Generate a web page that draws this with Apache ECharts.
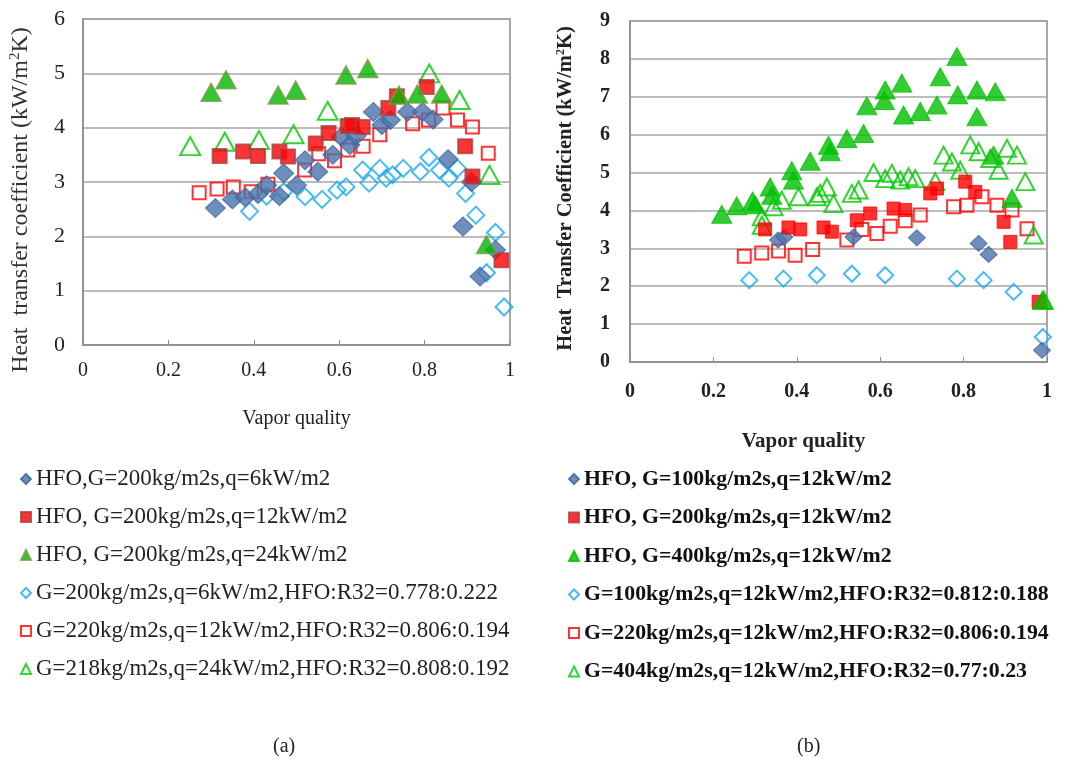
<!DOCTYPE html>
<html><head><meta charset="utf-8">
<script src="https://cdn.jsdelivr.net/npm/echarts@6/dist/echarts.min.js"></script>
<style>html,body{margin:0;padding:0;background:#fff}#c{width:1067px;height:765px}</style>
</head><body><div id="c"></div>
<script>
// ---------- Panel (a) data: [vapor quality, HTC kW/m2K] ----------
const aNames = [
  'HFO,G=200kg/m2s,q=6kW/m2',
  'HFO, G=200kg/m2s,q=12kW/m2',
  'HFO, G=200kg/m2s,q=24kW/m2',
  'G=200kg/m2s,q=6kW/m2,HFO:R32=0.778:0.222',
  'G=220kg/m2s,q=12kW/m2,HFO:R32=0.806:0.194',
  'G=218kg/m2s,q=24kW/m2,HFO:R32=0.808:0.192'
];
const aHfoQ6 = [[0.31,2.52],[0.35,2.68],[0.38,2.72],[0.41,2.78],[0.43,2.94],[0.46,2.74],[0.47,3.16],[0.50,2.94],[0.52,3.40],[0.55,3.19],[0.585,3.50],[0.605,3.83],[0.625,3.68],[0.64,3.85],[0.68,4.29],[0.70,4.05],[0.72,4.14],[0.76,4.29],[0.795,4.29],[0.82,4.15],[0.855,3.42],[0.91,3.0],[0.89,2.18],[0.93,1.26],[0.966,1.75]];
const aHfoQ12 = [[0.32,3.48],[0.375,3.56],[0.41,3.48],[0.46,3.56],[0.48,3.47],[0.545,3.71],[0.575,3.90],[0.62,4.03],[0.63,4.05],[0.655,4.01],[0.715,4.36],[0.735,4.58],[0.805,4.75],[0.895,3.66],[0.912,3.10],[0.98,1.56]];
const aHfoQ24 = [[0.30,4.65],[0.335,4.88],[0.457,4.60],[0.498,4.69],[0.616,4.97],[0.667,5.09],[0.74,4.60],[0.783,4.62],[0.84,4.62],[0.945,1.85]];
const aMixQ6 = [[0.39,2.46],[0.43,2.74],[0.47,2.82],[0.52,2.73],[0.56,2.68],[0.595,2.85],[0.616,2.91],[0.655,3.22],[0.67,2.98],[0.695,3.25],[0.71,3.07],[0.725,3.13],[0.75,3.25],[0.79,3.19],[0.81,3.45],[0.835,3.22],[0.857,3.07],[0.877,3.25],[0.896,2.79],[0.92,2.39],[0.966,2.07],[0.945,1.33],[0.986,0.70]];
const aMixQ12 = [[0.272,2.80],[0.314,2.87],[0.352,2.91],[0.394,2.82],[0.433,2.96],[0.519,3.22],[0.552,3.52],[0.589,3.39],[0.62,3.59],[0.656,3.66],[0.695,3.87],[0.772,4.07],[0.809,4.14],[0.843,4.36],[0.877,4.14],[0.912,4.01],[0.949,3.53]];
const aMixQ24 = [[0.251,3.66],[0.332,3.74],[0.412,3.77],[0.493,3.88],[0.573,4.31],[0.811,5.0],[0.882,4.51],[0.952,3.13]];

// ---------- Panel (b) data ----------
const bNames = [
  'HFO, G=100kg/m2s,q=12kW/m2',
  'HFO, G=200kg/m2s,q=12kW/m2',
  'HFO, G=400kg/m2s,q=12kW/m2',
  'G=100kg/m2s,q=12kW/m2,HFO:R32=0.812:0.188',
  'G=220kg/m2s,q=12kW/m2,HFO:R32=0.806:0.194',
  'G=404kg/m2s,q=12kW/m2,HFO:R32=0.77:0.23'
];
const bHfoG100 = [[0.355,3.22],[0.37,3.30],[0.536,3.30],[0.688,3.28],[0.836,3.13],[0.86,2.84],[0.988,0.31]];
const bHfoG200 = [[0.324,3.50],[0.38,3.55],[0.408,3.50],[0.464,3.55],[0.484,3.44],[0.544,3.74],[0.576,3.92],[0.632,4.05],[0.660,4.01],[0.720,4.45],[0.736,4.58],[0.804,4.76],[0.828,4.49],[0.896,3.70],[0.912,3.17],[0.98,1.59]];
const bHfoG400 = [[0.22,3.90],[0.256,4.12],[0.294,4.25],[0.30,4.15],[0.336,4.62],[0.34,4.40],[0.388,5.05],[0.392,4.80],[0.432,5.30],[0.476,5.72],[0.480,5.55],[0.520,5.90],[0.560,6.03],[0.568,6.76],[0.610,6.90],[0.612,7.18],[0.652,7.36],[0.656,6.52],[0.696,6.61],[0.736,6.78],[0.744,7.53],[0.784,8.06],[0.786,7.05],[0.832,7.18],[0.832,6.47],[0.876,7.13],[0.872,5.46],[0.916,4.32],[0.989,1.63]];
const bMixG100 = [[0.286,2.16],[0.368,2.20],[0.448,2.29],[0.532,2.33],[0.612,2.29],[0.784,2.20],[0.848,2.16],[0.920,1.85],[0.990,0.66]];
const bMixG220 = [[0.274,2.79],[0.316,2.88],[0.356,2.93],[0.396,2.82],[0.438,2.97],[0.520,3.22],[0.556,3.50],[0.592,3.39],[0.624,3.58],[0.660,3.73],[0.696,3.88],[0.776,4.10],[0.808,4.14],[0.844,4.36],[0.880,4.14],[0.916,4.01],[0.952,3.52]];
const bMixG404 = [[0.316,3.61],[0.316,3.83],[0.344,4.10],[0.364,4.27],[0.404,4.36],[0.448,4.36],[0.456,4.45],[0.472,4.62],[0.488,4.18],[0.532,4.45],[0.548,4.54],[0.584,5.0],[0.612,4.84],[0.628,4.98],[0.648,4.80],[0.668,4.89],[0.684,4.84],[0.732,4.76],[0.752,5.46],[0.772,5.28],[0.792,5.06],[0.816,5.73],[0.836,5.55],[0.864,5.37],[0.884,5.06],[0.904,5.64],[0.928,5.46],[0.948,4.76],[0.968,3.35],[0.992,1.63]];

const xTicks = [0, 0.2, 0.4, 0.6, 0.8, 1];

const SERIF = '"Liberation Serif","DejaVu Serif",serif';
const styles = {
  blueFillA: {symbol:'diamond',  size:[20,19], itemStyle:{color:'#4a72aa', borderColor:'#3c6299', borderWidth:1}},
  redFillA:  {symbol:'rect',     size:14, itemStyle:{color:'#ff0000', borderColor:'#a84040', borderWidth:2}},
  greenFillA:{symbol:'triangle', size:[20,18], itemStyle:{color:'#00b800', borderColor:'#7f9a45', borderWidth:1.5}},
  blueHollowA:{symbol:'diamond', size:17, itemStyle:{color:'rgba(255,255,255,0)', borderColor:'#1aa9ef', borderWidth:2}},
  redHollowA:{symbol:'rect',     size:13, itemStyle:{color:'rgba(255,255,255,0)', borderColor:'#ff0000', borderWidth:2}},
  greenHollowA:{symbol:'triangle',size:[20,18], itemStyle:{color:'rgba(255,255,255,0)', borderColor:'#00c800', borderWidth:2}},
  blueFillB: {symbol:'diamond',  size:[17,16], itemStyle:{color:'#4a72aa', borderColor:'#3c6299', borderWidth:1}},
  redFillB:  {symbol:'rect',     size:13, itemStyle:{color:'#ff0000', borderColor:'#ff0000', borderWidth:1}},
  greenFillB:{symbol:'triangle', size:[20,18], itemStyle:{color:'#00c000', borderColor:'#00c000', borderWidth:1}},
  blueHollowB:{symbol:'diamond', size:16, itemStyle:{color:'rgba(255,255,255,0)', borderColor:'#1aa9ef', borderWidth:2}},
  redHollowB:{symbol:'rect',     size:13, itemStyle:{color:'rgba(255,255,255,0)', borderColor:'#ff0000', borderWidth:2}},
  greenHollowB:{symbol:'triangle',size:[18,17], itemStyle:{color:'rgba(255,255,255,0)', borderColor:'#00c800', borderWidth:2}}
};
function mk(name, data, st, idx) {
  return {type:'scatter', name, data, xAxisIndex:idx, yAxisIndex:idx,
    symbol:st.symbol, symbolSize:st.size, itemStyle:st.itemStyle, z: 3};
}
const series = [
  mk(aNames[3], aMixQ6, styles.blueHollowA, 0),
  mk(aNames[4], aMixQ12, styles.redHollowA, 0),
  mk(aNames[5], aMixQ24, styles.greenHollowA, 0),
  mk(aNames[0], aHfoQ6, styles.blueFillA, 0),
  mk(aNames[1], aHfoQ12, styles.redFillA, 0),
  mk(aNames[2], aHfoQ24, styles.greenFillA, 0),
  mk(bNames[3], bMixG100, styles.blueHollowB, 1),
  mk(bNames[4], bMixG220, styles.redHollowB, 1),
  mk(bNames[5], bMixG404, styles.greenHollowB, 1),
  mk(bNames[0], bHfoG100, styles.blueFillB, 1),
  mk(bNames[1], bHfoG200, styles.redFillB, 1),
  mk(bNames[2], bHfoG400, styles.greenFillB, 1)
];

function xAx(idx, bold, gap, fs) {
  return {type:'value', gridIndex:idx, min:xTicks[0], max:xTicks[xTicks.length-1], interval:0.2,
    axisLine:{lineStyle:{color:'#8c8c8c', width:1.5}},
    axisTick:{inside:true, length:5, lineStyle:{color:'#8c8c8c'}},
    splitLine:{show:false},
    axisLabel:{fontFamily:SERIF, fontSize:fs, fontWeight:bold?'bold':'normal', color:'#222', margin:gap}};
}
function yAx(idx, max, bold, gap, fs) {
  return {type:'value', gridIndex:idx, min:0, max:max, interval:1,
    axisLine:{show:true, lineStyle:{color:'#8c8c8c', width:1.5}},
    axisTick:{show:false},
    splitLine:{lineStyle:{color:'#a6a6a6', width:1.5}},
    axisLabel:{fontFamily:SERIF, fontSize:fs, fontWeight:bold?'bold':'normal', color:'#222', margin:gap}};
}

const chart = echarts.init(document.getElementById('c'), null, {renderer:'canvas'});
chart.setOption({
  animation:false,
  backgroundColor:'#fff',
  grid:[
    {left:83, top:19, width:427, height:326, show:true, borderColor:'#8c8c8c', borderWidth:1.5, backgroundColor:'transparent'},
    {left:630, top:21, width:417, height:341, show:true, borderColor:'#8c8c8c', borderWidth:1.5, backgroundColor:'transparent'}
  ],
  xAxis:[
    Object.assign(xAx(0,false,16,20), {name:'Vapor quality', nameLocation:'middle', nameGap:64,
      nameTextStyle:{fontFamily:SERIF, fontSize:20, color:'#222'}}),
    Object.assign(xAx(1,true,20,20), {name:'Vapor quality', nameLocation:'middle', nameGap:69,
      nameTextStyle:{fontFamily:SERIF, fontSize:21, fontWeight:'bold', color:'#222', padding:[0,70,0,0]}})
  ],
  yAxis:[
    Object.assign(yAx(0,6,false,18,22), {name:'{t|Heat  transfer coefficient (kW/m}{s|2}{t|K)}', nameLocation:'middle', nameGap:50,
      nameTextStyle:{fontFamily:SERIF, color:'#333', padding:[0,36,0,0],
        rich:{t:{fontFamily:SERIF, fontSize:24, color:'#333'}, s:{fontFamily:SERIF, fontSize:15, color:'#333', verticalAlign:'top', padding:[0,0,10,0]}}}}),
    Object.assign(yAx(1,9,true,20,20), {name:'{t|Heat  Transfer Coefficient (kW/m}{s|2}{t|K)}', nameLocation:'middle', nameGap:54,
      nameTextStyle:{fontFamily:SERIF, color:'#222', padding:[0,0,0,6],
        rich:{t:{fontFamily:SERIF, fontSize:20.5, fontWeight:'bold', color:'#222'}, s:{fontFamily:SERIF, fontSize:12, fontWeight:'bold', color:'#222', verticalAlign:'top', padding:[0,0,9,0]}}}})
  ],
  legend:[
    {orient:'vertical', left:15, top:462, itemWidth:10, itemHeight:10, itemGap:14, itemTextGap:4,
      data:aNames, selectedMode:false,
      textStyle:{fontFamily:SERIF, fontSize:23, color:'#222', lineHeight:24}},
    {orient:'vertical', left:563, top:462, itemWidth:10, itemHeight:10, itemGap:14.5, itemTextGap:4,
      data:bNames, selectedMode:false,
      textStyle:{fontFamily:SERIF, fontSize:21.8, fontWeight:'bold', color:'#111', lineHeight:24}}
  ],
  title:[
    {text:'(a)', left:268, top:732, textStyle:{fontFamily:SERIF, fontSize:20, fontWeight:'normal', color:'#222'}},
    {text:'(b)', left:792, top:732, textStyle:{fontFamily:SERIF, fontSize:20, fontWeight:'normal', color:'#222'}}
  ],
  series:series
});
</script></body></html>
